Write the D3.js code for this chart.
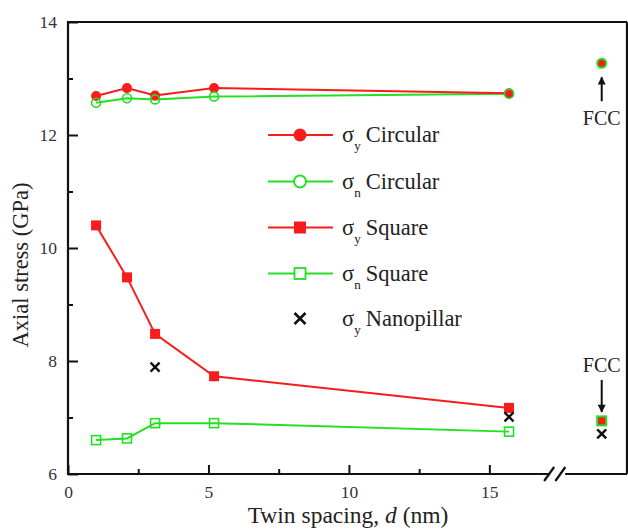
<!DOCTYPE html>
<html><head><meta charset="utf-8">
<script src="https://cdn.jsdelivr.net/npm/d3@7"></script>
<style>body{margin:0;background:#fff}svg{display:block}text{font-family:"Liberation Serif","Times New Roman",serif}</style>
</head><body><svg id="c" width="628" height="531"></svg>
<script>
// ---- data ----
const spacing = [1.0, 2.1, 3.1, 5.2, 15.7];
const sigmaYCircular = [12.69, 12.83, 12.70, 12.83, 12.74];
const sigmaNCircular = [12.57, 12.65, 12.63, 12.68, 12.73];
const sigmaYSquare = [10.40, 9.48, 8.48, 7.73, 7.17];
const sigmaNSquare = [6.60, 6.63, 6.90, 6.90, 6.75];
const nanoX = [3.1, 15.7];
const nanoY = [7.89, 7.01];
const fccX = 19.0;
const fccCircular = 13.27;
const fccSquare = 6.94;
const fccNanopillar = 6.71;
const xTicks = [0, 5, 10, 15];
const xMinor = [2.5, 7.5, 12.5];
const yTicks = [6, 8, 10, 12, 14];
const yMinor = [7, 9, 11, 13];
const legendSub = ["y", "n", "y", "n", "y"];
const legendName = ["Circular", "Circular", "Square", "Square", "Nanopillar"];

const RED = "#f81c1c", GREEN = "#22e022";
const svg = d3.select("#c");
const L = 68, R = 627, T = 22, B = 474;
const x = d3.scaleLinear().domain([0, 19.9]).range([L, R]);
const y = d3.scaleLinear().domain([6, 14]).range([B, T]);

// axes
const yAx = svg.append("g").attr("transform", `translate(${L},0)`)
  .call(d3.axisLeft(y).tickValues(yTicks).tickSize(-10).tickPadding(11).tickFormat(d3.format("d")));
const yMin = svg.append("g").attr("transform", `translate(${L},0)`)
  .call(d3.axisLeft(y).tickValues(yMinor).tickSize(-5).tickFormat(""));
const xAx = svg.append("g").attr("transform", `translate(0,${B})`)
  .call(d3.axisBottom(x).tickValues(xTicks).tickSize(-9).tickPadding(24).tickFormat(d3.format("d")));
const xMin = svg.append("g").attr("transform", `translate(0,${B})`)
  .call(d3.axisBottom(x).tickValues(xMinor).tickSize(-5).tickFormat(""));
[yAx, yMin, xAx, xMin].forEach(g => {
  g.select(".domain").remove();
  g.selectAll(".tick line").attr("stroke", "#111").attr("stroke-width", 2);
  g.selectAll(".tick text").attr("font-size", 17.5).attr("fill", "#333")
   .attr("font-family", "Liberation Serif, serif");
});
xAx.selectAll(".tick text").attr("dy", 0);

const frame = svg.append("g").attr("stroke", "#111").attr("stroke-width", 2.2).attr("fill", "none");
frame.append("line").attr("x1", L).attr("x2", L).attr("y1", T - 1).attr("y2", B + 1);
frame.append("line").attr("x1", L - 1).attr("x2", R).attr("y1", T).attr("y2", T);
frame.append("line").attr("x1", R).attr("x2", R).attr("y1", T).attr("y2", B);
frame.append("line").attr("x1", L - 1).attr("x2", x(17.15)).attr("y1", B).attr("y2", B);
frame.append("line").attr("x1", x(17.7)).attr("x2", R).attr("y1", B).attr("y2", B);
// break marks
[16.95, 17.35].forEach(v => {
  frame.append("line").attr("x1", x(v)).attr("y1", B + 7).attr("x2", x(v) + 10).attr("y2", B - 7);
});

// data series
const plot = svg.append("g");
function series(vals, color) {
  const pts = spacing.map((d, i) => [x(d), y(vals[i])]);
  plot.append("path").attr("d", d3.line()(pts)).attr("fill", "none")
    .attr("stroke", color).attr("stroke-width", 2);
  return pts;
}
const p1 = series(sigmaNCircular, GREEN);
const p2 = series(sigmaYCircular, RED);
const p3 = series(sigmaNSquare, GREEN);
const p4 = series(sigmaYSquare, RED);
p2.forEach(p => plot.append("circle").attr("cx", p[0]).attr("cy", p[1]).attr("r", 5).attr("fill", RED));
p1.forEach(p => plot.append("circle").attr("cx", p[0]).attr("cy", p[1]).attr("r", 4.5).attr("fill", "none").attr("stroke", GREEN).attr("stroke-width", 1.6));
p4.forEach(p => plot.append("rect").attr("x", p[0] - 5).attr("y", p[1] - 5).attr("width", 10).attr("height", 10).attr("fill", RED));
p3.forEach(p => plot.append("rect").attr("x", p[0] - 4.5).attr("y", p[1] - 4.5).attr("width", 9).attr("height", 9).attr("fill", "none").attr("stroke", GREEN).attr("stroke-width", 1.6));

function cross(cx, cy, s) {
  plot.append("path").attr("d", `M${cx - s},${cy - s}L${cx + s},${cy + s}M${cx - s},${cy + s}L${cx + s},${cy - s}`)
    .attr("stroke", "#111").attr("stroke-width", 2.4).attr("fill", "none");
}
nanoX.forEach((d, i) => cross(x(d), y(nanoY[i]), 4.5));

// FCC references
plot.append("circle").attr("cx", x(fccX)).attr("cy", y(fccCircular)).attr("r", 4.5).attr("fill", RED).attr("stroke", GREEN).attr("stroke-width", 2);
plot.append("rect").attr("x", x(fccX) - 4.5).attr("y", y(fccSquare) - 4.5).attr("width", 9).attr("height", 9).attr("fill", RED).attr("stroke", GREEN).attr("stroke-width", 2);
cross(x(fccX), y(fccNanopillar), 4.5);

svg.append("defs").append("marker").attr("id", "ah").attr("viewBox", "0 0 10 10")
  .attr("refX", 9).attr("refY", 5).attr("orient", "auto")
  .attr("markerUnits", "userSpaceOnUse").attr("markerWidth", 12).attr("markerHeight", 8)
  .append("path").attr("d", "M0,0L10,5L0,10Z").attr("fill", "#111");
const fx = x(fccX);
plot.append("line").attr("x1", fx).attr("x2", fx).attr("y1", y(fccCircular) + 38).attr("y2", y(fccCircular) + 14)
  .attr("stroke", "#111").attr("stroke-width", 2).attr("marker-end", "url(#ah)");
plot.append("text").attr("x", fx).attr("y", y(fccCircular) + 62).attr("text-anchor", "middle").attr("font-size", 20).attr("fill", "#222").text("FCC");
plot.append("line").attr("x1", fx).attr("x2", fx).attr("y1", y(fccSquare) - 41).attr("y2", y(fccSquare) - 9)
  .attr("stroke", "#111").attr("stroke-width", 2).attr("marker-end", "url(#ah)");
plot.append("text").attr("x", fx).attr("y", y(fccSquare) - 49).attr("text-anchor", "middle").attr("font-size", 20).attr("fill", "#222").text("FCC");

// legend
const legY = [135, 181.5, 227.5, 273.5, 318.5];
const legColor = [RED, GREEN, RED, GREEN, null];
const leg = svg.append("g");
legY.forEach((ly, i) => {
  const c = legColor[i];
  if (c) leg.append("line").attr("x1", 268).attr("x2", 333).attr("y1", ly).attr("y2", ly).attr("stroke", c).attr("stroke-width", 2);
  if (i === 0) leg.append("circle").attr("cx", 300).attr("cy", ly).attr("r", 6.5).attr("fill", RED);
  if (i === 1) leg.append("circle").attr("cx", 300).attr("cy", ly).attr("r", 6).attr("fill", "#fff").attr("stroke", GREEN).attr("stroke-width", 1.8);
  if (i === 2) leg.append("rect").attr("x", 294).attr("y", ly - 6).attr("width", 12).attr("height", 12).attr("fill", RED);
  if (i === 3) leg.append("rect").attr("x", 294.5).attr("y", ly - 5.5).attr("width", 11).attr("height", 11).attr("fill", "#fff").attr("stroke", GREEN).attr("stroke-width", 1.8);
  if (i === 4) { const s = 5.5; leg.append("path").attr("d", `M${300 - s},${ly - s}L${300 + s},${ly + s}M${300 - s},${ly + s}L${300 + s},${ly - s}`).attr("stroke", "#111").attr("stroke-width", 2.6); }
  const t = leg.append("text").attr("x", 342).attr("y", ly + 7).attr("font-size", 22.5).attr("fill", "#222");
  t.append("tspan").text("σ");
  t.append("tspan").attr("font-size", 13).attr("dy", 8).text(legendSub[i]);
  t.append("tspan").attr("dy", -8).attr("dx", 5).text(legendName[i]);
});

// axis titles
svg.append("text").attr("transform", "translate(28,265) rotate(-90)").attr("text-anchor", "middle")
  .attr("font-size", 22.5).attr("fill", "#222").text("Axial stress (GPa)");
const xt = svg.append("text").attr("x", 348).attr("y", 523).attr("text-anchor", "middle").attr("font-size", 23.5).attr("fill", "#222");
xt.append("tspan").text("Twin spacing, ");
xt.append("tspan").attr("font-style", "italic").text("d");
xt.append("tspan").text(" (nm)");
</script></body></html>
